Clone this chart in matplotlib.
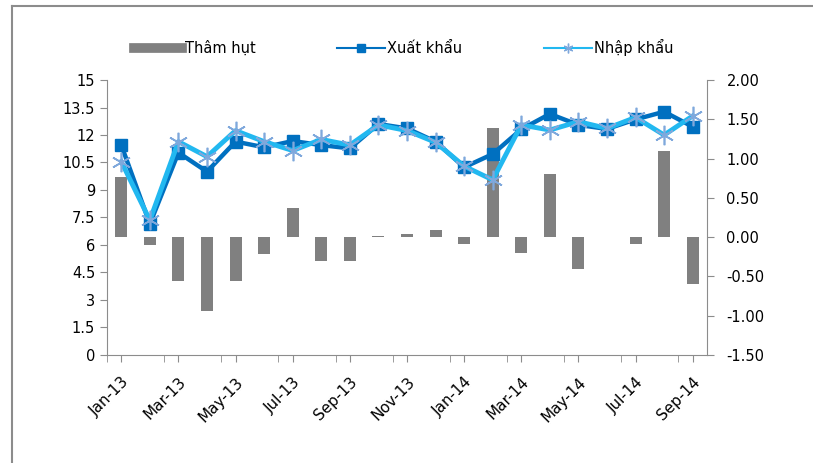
import matplotlib.pyplot as plt
from matplotlib.lines import Line2D

months = ['Jan-13', 'Feb-13', 'Mar-13', 'Apr-13', 'May-13', 'Jun-13', 'Jul-13',
          'Aug-13', 'Sep-13', 'Oct-13', 'Nov-13', 'Dec-13', 'Jan-14', 'Feb-14',
          'Mar-14', 'Apr-14', 'May-14', 'Jun-14', 'Jul-14', 'Aug-14', 'Sep-14']
xuat_khau = [11.45, 7.15, 11.04, 10.0, 11.64, 11.33, 11.67, 11.45, 11.27, 12.6, 12.36,
             11.64, 10.24, 10.96, 12.31, 13.15, 12.55, 12.33, 12.85, 13.27, 12.45]
nhap_khau = [10.55, 7.35, 11.64, 10.82, 12.24, 11.64, 11.15, 11.76, 11.45, 12.55, 12.24,
             11.6, 10.3, 9.55, 12.55, 12.27, 12.73, 12.36, 12.96, 12.0, 13.04]
tham_hut = [0.76, -0.10, -0.56, -0.94, -0.56, -0.21, 0.37, -0.31, -0.31, 0.02, 0.04,
            0.09, -0.09, 1.39, -0.20, 0.80, -0.40, 0.0, -0.09, 1.10, -0.60]

x = list(range(len(months)))
grey = '#8c8c8c'

fig = plt.figure(figsize=(8.13, 4.63), dpi=100)
ax = fig.add_axes([0.1316, 0.2333, 0.7380, 0.5939])
ax2 = ax.twinx()

# bars on the right axis, drawn behind the lines
ax2.bar(x, tham_hut, width=0.42, color='#808080', zorder=1)
ax2.set_ylim(-1.5, 2.0)
ax2.set_yticks([-1.5, -1.0, -0.5, 0.0, 0.5, 1.0, 1.5, 2.0])
ax2.set_yticklabels([f'{v:.2f}' for v in ax2.get_yticks()])

ax.set_zorder(ax2.get_zorder() + 1)
ax.patch.set_visible(False)
ax.plot(x, xuat_khau, color='#0070c0', lw=3.2, marker='s', ms=9,
        markerfacecolor='#0070c0', markeredgecolor='#0070c0', zorder=3)
ax.plot(x, nhap_khau, color='#22b8f0', lw=3.5, marker=(6, 2, 0), ms=14,
        markeredgecolor='#7fa8dc', markeredgewidth=1.2, zorder=4)
ax.set_ylim(0, 15)
ax.set_yticks([0, 1.5, 3, 4.5, 6, 7.5, 9, 10.5, 12, 13.5, 15])
ax.set_yticklabels(['0', '1.5', '3', '4.5', '6', '7.5', '9', '10.5', '12', '13.5', '15'])

ax.set_xlim(-0.5, len(months) - 0.5)
ax.set_xticks(x[::2])
ax.set_xticklabels(months[::2], rotation=45, ha='right', rotation_mode='anchor')
ax.set_xticks([i - 0.5 for i in range(0, len(months), 2)], minor=True)
ax.tick_params(axis='x', which='major', length=0, pad=9)
ax.tick_params(axis='x', which='minor', length=5, color=grey)

for a in (ax, ax2):
    a.spines['top'].set_visible(False)
    for s in ('left', 'right', 'bottom'):
        a.spines[s].set_color(grey)
    a.tick_params(labelsize=10.5, color=grey, length=5)
ax.spines['right'].set_visible(False)
ax2.spines['left'].set_visible(False)
ax2.spines['bottom'].set_visible(False)
ax2.tick_params(axis='y', pad=9)
ax.tick_params(axis='x', labelsize=11)

handles = [
    Line2D([], [], color='#808080', lw=7),
    Line2D([], [], color='#0070c0', lw=1.5, marker='s', ms=6),
    Line2D([], [], color='#22b8f0', lw=1.5, marker=(6, 2, 0), ms=7,
           markeredgecolor='#7fa8dc'),
]
fig.legend(handles, ['Thâm hụt', 'Xuất khẩu', 'Nhập khẩu'], loc='center',
           bbox_to_anchor=(0.497, 0.898), ncol=3, frameon=False, fontsize=10.5,
           handlelength=3.3, handletextpad=0.15, columnspacing=5.6)

# outer chart frame
fig.add_artist(Line2D([0.015, 0.015], [0, 0.987], color=grey, lw=1.5))
fig.add_artist(Line2D([0.015, 1], [0.987, 0.987], color=grey, lw=1.5))

fig.savefig('out.png', dpi=100)
